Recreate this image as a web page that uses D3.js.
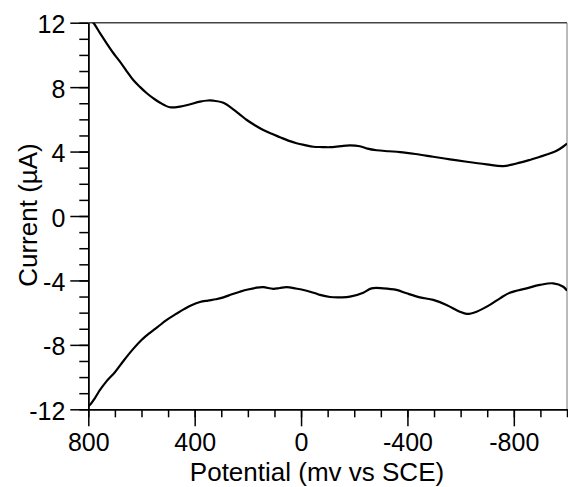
<!DOCTYPE html>
<html>
<head>
<meta charset="utf-8">
<script src="https://cdn.jsdelivr.net/npm/d3@7"></script>
<style>
  body { margin: 0; background: #fff; }
  svg { display: block; font-family: "Liberation Sans", Arial, sans-serif; }
</style>
</head>
<body>
<svg id="chart" width="568" height="487"></svg>
<script>
"use strict";

// Upper (anodic) branch: [potential mV, current uA]
const upperBranch = [
    [800, 12.3], [781, 12.0], [756, 11.35], [731, 10.72], [706, 10.12], [681, 9.58],
    [656, 9.0], [631, 8.44], [605, 8.0], [580, 7.62], [555, 7.3], [530, 7.03],
    [493, 6.75], [455, 6.79], [420, 6.92], [380, 7.10], [350, 7.17], [330, 7.16],
    [292, 7.03], [255, 6.62], [230, 6.3], [204, 5.96], [172, 5.62], [142, 5.34],
    [110, 5.1], [79, 4.89], [48, 4.68], [17, 4.52], [-15, 4.4], [-46, 4.30],
    [-80, 4.28], [-109, 4.27], [-150, 4.34], [-184, 4.38], [-221, 4.33],
    [-250, 4.18], [-284, 4.08], [-330, 4.02], [-372, 3.97], [-430, 3.85],
    [-497, 3.68], [-560, 3.52], [-623, 3.37], [-698, 3.21], [-760, 3.10],
    [-823, 3.31], [-860, 3.48], [-898, 3.68], [-930, 3.85], [-961, 4.05],
    [-985, 4.3], [-1000, 4.50]
];

// Lower (cathodic) branch: [potential mV, current uA]
const lowerBranch = [
    [800, -11.8], [790, -11.65], [775, -11.3], [756, -10.8], [731, -10.25],
    [700, -9.7], [668, -9.0], [631, -8.25], [600, -7.7], [568, -7.25],
    [540, -6.9], [505, -6.45], [470, -6.08], [440, -5.78], [410, -5.52],
    [380, -5.34], [350, -5.25], [320, -5.17], [292, -5.05], [260, -4.86],
    [230, -4.70], [200, -4.56], [167, -4.45], [142, -4.42], [105, -4.52],
    [80, -4.47], [54, -4.42], [20, -4.5], [-21, -4.64], [-50, -4.78],
    [-71, -4.90], [-109, -5.03], [-150, -5.05], [-184, -5.01], [-234, -4.76],
    [-265, -4.49], [-309, -4.49], [-359, -4.59], [-397, -4.80], [-447, -5.05],
    [-497, -5.21], [-547, -5.52], [-597, -5.94], [-623, -6.08], [-660, -5.94],
    [-710, -5.52], [-748, -5.11], [-785, -4.76], [-848, -4.49], [-898, -4.28],
    [-948, -4.18], [-986, -4.39], [-1000, -4.64]
];

const xMajorTicks = [800, 400, 0, -400, -800];
const xMinorTicks = d3.range(800, -1001, -100);
const yMajorTicks = [-12, -8, -4, 0, 4, 8, 12];
const yMinorTicks = d3.range(-12, 13, 1);

const margin = {top: 22.7, right: 1, bottom: 77.7, left: 88.3},
    width = 568 - margin.left - margin.right,
    height = 487 - margin.top - margin.bottom;

const svg = d3.select("#chart");
const plot = svg.append("g")
    .attr("transform", `translate(${margin.left},${margin.top})`);

const x = d3.scaleLinear().domain([800, -1000]).range([0, width]);
const y = d3.scaleLinear().domain([-12, 12]).range([height, 0]);

svg.append("defs").append("clipPath").attr("id", "clip")
    .append("rect").attr("width", width).attr("height", height);

// top and right frame lines
plot.append("line").attr("x1", 0).attr("x2", width).attr("y1", 0).attr("y2", 0)
    .attr("stroke", "#444").attr("stroke-width", 1.5);
plot.append("line").attr("x1", width).attr("x2", width).attr("y1", 0).attr("y2", height)
    .attr("stroke", "#777").attr("stroke-width", 1);

function styleAxis(g) {
    g.select(".domain").attr("stroke", "#000").attr("stroke-width", 1.5);
    g.selectAll(".tick line").attr("stroke", "#000").attr("stroke-width", 1.5);
    g.selectAll(".tick text").attr("fill", "#000").style("font-size", "25px");
}

// y axis, minor then major
plot.append("g")
    .call(d3.axisLeft(y).tickValues(yMinorTicks).tickSize(9).tickFormat("").tickSizeOuter(0))
    .call(styleAxis);
plot.append("g")
    .call(d3.axisLeft(y).tickValues(yMajorTicks).tickSize(18).tickPadding(5)
        .tickFormat((d) => String(d)).tickSizeOuter(0))
    .call(styleAxis)
    .call((g) => g.selectAll(".tick text").attr("dy", "0.4em"));

// x axis, minor then major
plot.append("g")
    .attr("transform", `translate(0,${height})`)
    .call(d3.axisBottom(x).tickValues(xMinorTicks).tickSize(8).tickFormat("").tickSizeOuter(0))
    .call(styleAxis);
plot.append("g")
    .attr("transform", `translate(0,${height})`)
    .call(d3.axisBottom(x).tickValues(xMajorTicks).tickSize(17).tickPadding(7)
        .tickFormat((d) => String(d)).tickSizeOuter(0))
    .call(styleAxis);

const line = d3.line()
    .x((d) => x(d[0]))
    .y((d) => y(d[1]))
    .curve(d3.curveCatmullRom);

plot.append("g").attr("clip-path", "url(#clip)")
    .selectAll("path")
    .data([upperBranch, lowerBranch])
    .join("path")
    .attr("d", line)
    .attr("fill", "none")
    .attr("stroke", "#000")
    .attr("stroke-width", 2.2);

// axis titles
svg.append("text")
    .attr("x", 317)
    .attr("y", 481)
    .attr("text-anchor", "middle")
    .style("font-size", "26px")
    .text("Potential (mv vs SCE)");

svg.append("text")
    .attr("transform", "translate(37,215) rotate(-90)")
    .attr("text-anchor", "middle")
    .style("font-size", "26px")
    .text("Current (µA)");
</script>
</body>
</html>
